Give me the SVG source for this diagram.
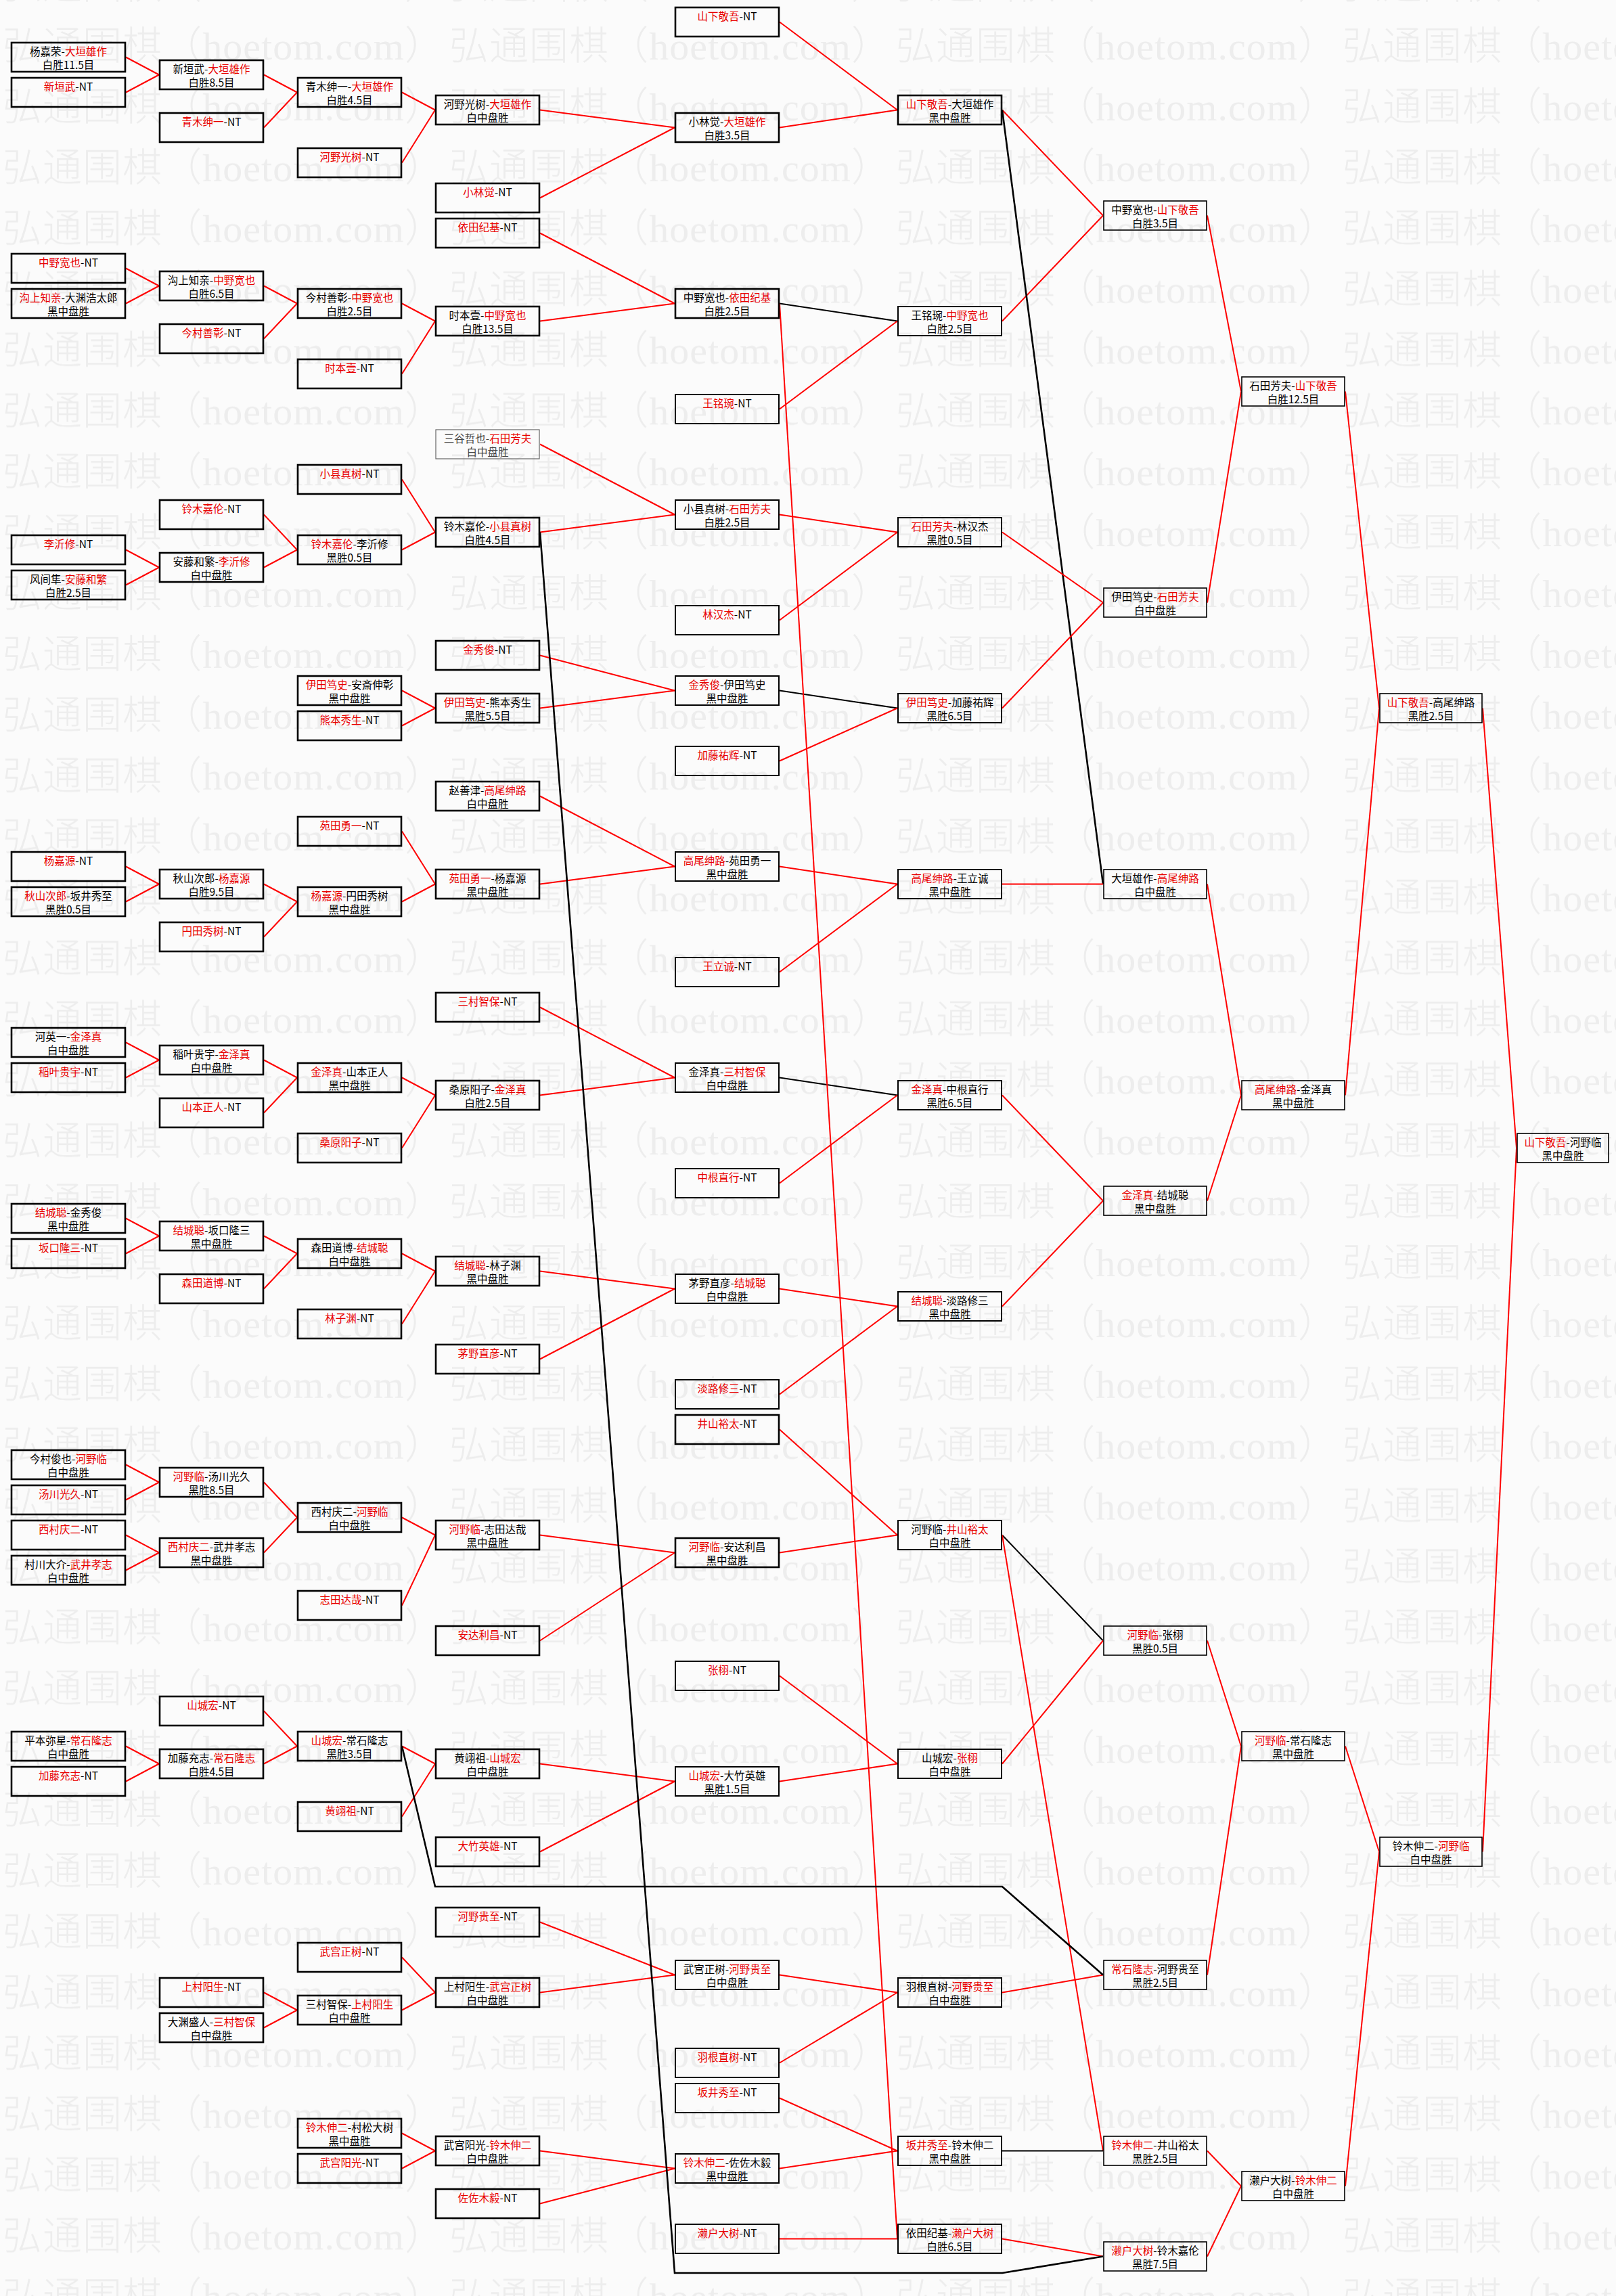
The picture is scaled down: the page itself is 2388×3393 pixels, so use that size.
<svg xmlns="http://www.w3.org/2000/svg" width="2388" height="3393" viewBox="0 0 2388 3393">
<style>
.bx{fill:none;stroke:#000;stroke-width:2.6}
.bm{fill:none;stroke:#000;stroke-width:2}
.bs{fill:none;stroke:#000;stroke-width:1.6}
.bg{fill:none;stroke:#666;stroke-width:1.2}
.t{font-family:"Noto Sans CJK SC","Noto Sans CJK JP",sans-serif;font-size:15.5px;text-anchor:middle;fill:#000}
.gt{fill:#444}
.r{fill:#e80000}
.lr{stroke:#f00;stroke-width:2;fill:none}
.lk{stroke:#000;stroke-width:2;fill:none}
.lk2{stroke:#000;stroke-width:2.6;fill:none}
</style>
<defs>
<pattern id="wm" patternUnits="userSpaceOnUse" x="0" y="37" width="660" height="89.9">
<text x="4" y="51" font-family="'Liberation Serif','Noto Sans CJK SC',serif" font-size="58" font-weight="300" fill="#ededed" textLength="652" lengthAdjust="spacing">弘通围棋（hoetom.com）</text>
</pattern>
</defs>
<rect width="2388" height="3393" fill="#fbfbfb"/>
<rect width="2388" height="3393" fill="url(#wm)"/>
<g id="connectors">
<line class="lr" x1="186" y1="84.5" x2="235" y2="110.5"/>
<line class="lr" x1="186" y1="136.5" x2="235" y2="110.5"/>
<line class="lr" x1="186" y1="396.5" x2="235" y2="422.5"/>
<line class="lr" x1="186" y1="448.5" x2="235" y2="422.5"/>
<line class="lr" x1="186" y1="812.5" x2="235" y2="838.5"/>
<line class="lr" x1="186" y1="864.5" x2="235" y2="838.5"/>
<line class="lr" x1="186" y1="1280.5" x2="235" y2="1306.5"/>
<line class="lr" x1="186" y1="1332.5" x2="235" y2="1306.5"/>
<line class="lr" x1="186" y1="1540.5" x2="235" y2="1566.5"/>
<line class="lr" x1="186" y1="1592.5" x2="235" y2="1566.5"/>
<line class="lr" x1="186" y1="1800.5" x2="235" y2="1826.5"/>
<line class="lr" x1="186" y1="1852.5" x2="235" y2="1826.5"/>
<line class="lr" x1="186" y1="2164.5" x2="235" y2="2190.5"/>
<line class="lr" x1="186" y1="2216.5" x2="235" y2="2190.5"/>
<line class="lr" x1="186" y1="2268.5" x2="235" y2="2294.5"/>
<line class="lr" x1="186" y1="2320.5" x2="235" y2="2294.5"/>
<line class="lr" x1="186" y1="2580.5" x2="235" y2="2606.5"/>
<line class="lr" x1="186" y1="2632.5" x2="235" y2="2606.5"/>
<line class="lr" x1="390" y1="110.5" x2="439" y2="136.5"/>
<line class="lr" x1="390" y1="188.5" x2="439" y2="136.5"/>
<line class="lr" x1="390" y1="422.5" x2="439" y2="448.5"/>
<line class="lr" x1="390" y1="500.5" x2="439" y2="448.5"/>
<line class="lr" x1="390" y1="760.5" x2="439" y2="812.5"/>
<line class="lr" x1="390" y1="838.5" x2="439" y2="812.5"/>
<line class="lr" x1="390" y1="1306.5" x2="439" y2="1332.5"/>
<line class="lr" x1="390" y1="1384.5" x2="439" y2="1332.5"/>
<line class="lr" x1="390" y1="1566.5" x2="439" y2="1592.5"/>
<line class="lr" x1="390" y1="1644.5" x2="439" y2="1592.5"/>
<line class="lr" x1="390" y1="1826.5" x2="439" y2="1852.5"/>
<line class="lr" x1="390" y1="1904.5" x2="439" y2="1852.5"/>
<line class="lr" x1="390" y1="2190.5" x2="439" y2="2242.5"/>
<line class="lr" x1="390" y1="2294.5" x2="439" y2="2242.5"/>
<line class="lr" x1="390" y1="2528.5" x2="439" y2="2580.5"/>
<line class="lr" x1="390" y1="2606.5" x2="439" y2="2580.5"/>
<line class="lr" x1="390" y1="2944.5" x2="439" y2="2970.5"/>
<line class="lr" x1="390" y1="2996.5" x2="439" y2="2970.5"/>
<line class="lr" x1="594" y1="136.5" x2="643" y2="162.5"/>
<line class="lr" x1="594" y1="240.5" x2="643" y2="162.5"/>
<line class="lr" x1="594" y1="448.5" x2="643" y2="474.5"/>
<line class="lr" x1="594" y1="552.5" x2="643" y2="474.5"/>
<line class="lr" x1="594" y1="708.5" x2="643" y2="786.5"/>
<line class="lr" x1="594" y1="812.5" x2="643" y2="786.5"/>
<line class="lr" x1="594" y1="1020.5" x2="643" y2="1046.5"/>
<line class="lr" x1="594" y1="1072.5" x2="643" y2="1046.5"/>
<line class="lr" x1="594" y1="1228.5" x2="643" y2="1306.5"/>
<line class="lr" x1="594" y1="1332.5" x2="643" y2="1306.5"/>
<line class="lr" x1="594" y1="1592.5" x2="643" y2="1618.5"/>
<line class="lr" x1="594" y1="1696.5" x2="643" y2="1618.5"/>
<line class="lr" x1="594" y1="1852.5" x2="643" y2="1878.5"/>
<line class="lr" x1="594" y1="1956.5" x2="643" y2="1878.5"/>
<line class="lr" x1="594" y1="2242.5" x2="643" y2="2268.5"/>
<line class="lr" x1="594" y1="2372.5" x2="643" y2="2268.5"/>
<line class="lr" x1="594" y1="2580.5" x2="643" y2="2606.5"/>
<line class="lr" x1="594" y1="2684.5" x2="643" y2="2606.5"/>
<line class="lr" x1="594" y1="2892.5" x2="643" y2="2944.5"/>
<line class="lr" x1="594" y1="2970.5" x2="643" y2="2944.5"/>
<line class="lr" x1="594" y1="3152.5" x2="643" y2="3178.5"/>
<line class="lr" x1="594" y1="3204.5" x2="643" y2="3178.5"/>
<line class="lr" x1="798" y1="162.5" x2="997" y2="188.5"/>
<line class="lr" x1="798" y1="292.5" x2="997" y2="188.5"/>
<line class="lr" x1="798" y1="344.5" x2="997" y2="448.5"/>
<line class="lr" x1="798" y1="474.5" x2="997" y2="448.5"/>
<line class="lr" x1="798" y1="656.5" x2="997" y2="760.5"/>
<line class="lr" x1="798" y1="786.5" x2="997" y2="760.5"/>
<line class="lr" x1="798" y1="968.5" x2="997" y2="1020.5"/>
<line class="lr" x1="798" y1="1046.5" x2="997" y2="1020.5"/>
<line class="lr" x1="798" y1="1176.5" x2="997" y2="1280.5"/>
<line class="lr" x1="798" y1="1306.5" x2="997" y2="1280.5"/>
<line class="lr" x1="798" y1="1488.5" x2="997" y2="1592.5"/>
<line class="lr" x1="798" y1="1618.5" x2="997" y2="1592.5"/>
<line class="lr" x1="798" y1="1878.5" x2="997" y2="1904.5"/>
<line class="lr" x1="798" y1="2008.5" x2="997" y2="1904.5"/>
<line class="lr" x1="798" y1="2268.5" x2="997" y2="2294.5"/>
<line class="lr" x1="798" y1="2424.5" x2="997" y2="2294.5"/>
<line class="lr" x1="798" y1="2606.5" x2="997" y2="2632.5"/>
<line class="lr" x1="798" y1="2736.5" x2="997" y2="2632.5"/>
<line class="lr" x1="798" y1="2840.5" x2="997" y2="2918.5"/>
<line class="lr" x1="798" y1="2944.5" x2="997" y2="2918.5"/>
<line class="lr" x1="798" y1="3178.5" x2="997" y2="3204.5"/>
<line class="lr" x1="798" y1="3256.5" x2="997" y2="3204.5"/>
<line class="lr" x1="1152" y1="32.5" x2="1326" y2="162.5"/>
<line class="lr" x1="1152" y1="188.5" x2="1326" y2="162.5"/>
<line class="lk" x1="1152" y1="448.5" x2="1326" y2="474.5"/>
<line class="lr" x1="1152" y1="604.5" x2="1326" y2="474.5"/>
<line class="lr" x1="1152" y1="760.5" x2="1326" y2="786.5"/>
<line class="lr" x1="1152" y1="916.5" x2="1326" y2="786.5"/>
<line class="lk" x1="1152" y1="1020.5" x2="1326" y2="1046.5"/>
<line class="lr" x1="1152" y1="1124.5" x2="1326" y2="1046.5"/>
<line class="lr" x1="1152" y1="1280.5" x2="1326" y2="1306.5"/>
<line class="lr" x1="1152" y1="1436.5" x2="1326" y2="1306.5"/>
<line class="lk" x1="1152" y1="1592.5" x2="1326" y2="1618.5"/>
<line class="lr" x1="1152" y1="1748.5" x2="1326" y2="1618.5"/>
<line class="lr" x1="1152" y1="1904.5" x2="1326" y2="1930.5"/>
<line class="lr" x1="1152" y1="2060.5" x2="1326" y2="1930.5"/>
<line class="lr" x1="1152" y1="2112.5" x2="1326" y2="2268.5"/>
<line class="lr" x1="1152" y1="2294.5" x2="1326" y2="2268.5"/>
<line class="lr" x1="1152" y1="2476.5" x2="1326" y2="2606.5"/>
<line class="lr" x1="1152" y1="2632.5" x2="1326" y2="2606.5"/>
<line class="lr" x1="1152" y1="2918.5" x2="1326" y2="2944.5"/>
<line class="lr" x1="1152" y1="3048.5" x2="1326" y2="2944.5"/>
<line class="lr" x1="1152" y1="3100.5" x2="1326" y2="3178.5"/>
<line class="lr" x1="1152" y1="3204.5" x2="1326" y2="3178.5"/>
<line class="lr" x1="1152" y1="3308.5" x2="1326" y2="3308.5"/>
<line class="lr" x1="1152" y1="448.5" x2="1326" y2="3308.5"/>
<line class="lr" x1="1481" y1="162.5" x2="1630" y2="318.5"/>
<line class="lr" x1="1481" y1="474.5" x2="1630" y2="318.5"/>
<line class="lk2" x1="1481" y1="162.5" x2="1630" y2="1306.5"/>
<line class="lr" x1="1481" y1="786.5" x2="1630" y2="890.5"/>
<line class="lr" x1="1481" y1="1046.5" x2="1630" y2="890.5"/>
<line class="lr" x1="1481" y1="1306.5" x2="1630" y2="1306.5"/>
<line class="lr" x1="1481" y1="1618.5" x2="1630" y2="1774.5"/>
<line class="lr" x1="1481" y1="1930.5" x2="1630" y2="1774.5"/>
<line class="lk" x1="1481" y1="2268.5" x2="1630" y2="2424.5"/>
<line class="lr" x1="1481" y1="2606.5" x2="1630" y2="2424.5"/>
<line class="lr" x1="1481" y1="2268.5" x2="1630" y2="3178.5"/>
<line class="lr" x1="1481" y1="2944.5" x2="1630" y2="2918.5"/>
<line class="lk" x1="1481" y1="3178.5" x2="1630" y2="3178.5"/>
<line class="lr" x1="1481" y1="3308.5" x2="1630" y2="3334.5"/>
<polyline class="lk2" points="594,2580.5 643,2788 1481,2788 1630,2918.5"/>
<polyline class="lk2" points="798,786.5 997,3359 1481,3359 1630,3334.5"/>
<line class="lr" x1="1784" y1="318.5" x2="1834" y2="578.5"/>
<line class="lr" x1="1784" y1="890.5" x2="1834" y2="578.5"/>
<line class="lr" x1="1784" y1="1306.5" x2="1834" y2="1618.5"/>
<line class="lr" x1="1784" y1="1774.5" x2="1834" y2="1618.5"/>
<line class="lr" x1="1784" y1="2424.5" x2="1834" y2="2580.5"/>
<line class="lr" x1="1784" y1="2918.5" x2="1834" y2="2580.5"/>
<line class="lr" x1="1784" y1="3178.5" x2="1834" y2="3230.5"/>
<line class="lr" x1="1784" y1="3334.5" x2="1834" y2="3230.5"/>
<line class="lr" x1="1988" y1="578.5" x2="2038" y2="1046.5"/>
<line class="lr" x1="1988" y1="1618.5" x2="2038" y2="1046.5"/>
<line class="lr" x1="1988" y1="2580.5" x2="2038" y2="2736.5"/>
<line class="lr" x1="1988" y1="3230.5" x2="2038" y2="2736.5"/>
<line class="lr" x1="2191" y1="1046.5" x2="2241" y2="1696.5"/>
<line class="lr" x1="2191" y1="2736.5" x2="2241" y2="1696.5"/>
</g>
<g id="col1">
<g id="n1-0"><rect class="bx" x="17" y="63" width="168" height="43"/><text class="t" x="101" y="82">杨嘉荣-<tspan class="r">大垣雄作</tspan></text><text class="t" x="101" y="102">白胜11.5目</text></g>
<g id="n1-2"><rect class="bx" x="17" y="115" width="168" height="43"/><text class="t" x="101" y="134"><tspan class="r">新垣武</tspan>-NT</text></g>
<g id="n1-12"><rect class="bx" x="17" y="375" width="168" height="43"/><text class="t" x="101" y="394"><tspan class="r">中野宽也</tspan>-NT</text></g>
<g id="n1-14"><rect class="bx" x="17" y="427" width="168" height="43"/><text class="t" x="101" y="446"><tspan class="r">沟上知亲</tspan>-大渊浩太郎</text><text class="t" x="101" y="466">黑中盘胜</text></g>
<g id="n1-28"><rect class="bx" x="17" y="791" width="168" height="43"/><text class="t" x="101" y="810"><tspan class="r">李沂修</tspan>-NT</text></g>
<g id="n1-30"><rect class="bx" x="17" y="843" width="168" height="43"/><text class="t" x="101" y="862">风间隼-<tspan class="r">安藤和繁</tspan></text><text class="t" x="101" y="882">白胜2.5目</text></g>
<g id="n1-46"><rect class="bx" x="17" y="1259" width="168" height="43"/><text class="t" x="101" y="1278"><tspan class="r">杨嘉源</tspan>-NT</text></g>
<g id="n1-48"><rect class="bx" x="17" y="1311" width="168" height="43"/><text class="t" x="101" y="1330"><tspan class="r">秋山次郎</tspan>-坂井秀至</text><text class="t" x="101" y="1350">黑胜0.5目</text></g>
<g id="n1-56"><rect class="bx" x="17" y="1519" width="168" height="43"/><text class="t" x="101" y="1538">河英一-<tspan class="r">金泽真</tspan></text><text class="t" x="101" y="1558">白中盘胜</text></g>
<g id="n1-58"><rect class="bx" x="17" y="1571" width="168" height="43"/><text class="t" x="101" y="1590"><tspan class="r">稲叶贵宇</tspan>-NT</text></g>
<g id="n1-66"><rect class="bx" x="17" y="1779" width="168" height="43"/><text class="t" x="101" y="1798"><tspan class="r">结城聪</tspan>-金秀俊</text><text class="t" x="101" y="1818">黑中盘胜</text></g>
<g id="n1-68"><rect class="bx" x="17" y="1831" width="168" height="43"/><text class="t" x="101" y="1850"><tspan class="r">坂口隆三</tspan>-NT</text></g>
<g id="n1-80"><rect class="bx" x="17" y="2143" width="168" height="43"/><text class="t" x="101" y="2162">今村俊也-<tspan class="r">河野临</tspan></text><text class="t" x="101" y="2182">白中盘胜</text></g>
<g id="n1-82"><rect class="bx" x="17" y="2195" width="168" height="43"/><text class="t" x="101" y="2214"><tspan class="r">汤川光久</tspan>-NT</text></g>
<g id="n1-84"><rect class="bx" x="17" y="2247" width="168" height="43"/><text class="t" x="101" y="2266"><tspan class="r">西村庆二</tspan>-NT</text></g>
<g id="n1-86"><rect class="bx" x="17" y="2299" width="168" height="43"/><text class="t" x="101" y="2318">村川大介-<tspan class="r">武井孝志</tspan></text><text class="t" x="101" y="2338">白中盘胜</text></g>
<g id="n1-96"><rect class="bx" x="17" y="2559" width="168" height="43"/><text class="t" x="101" y="2578">平本弥星-<tspan class="r">常石隆志</tspan></text><text class="t" x="101" y="2598">白中盘胜</text></g>
<g id="n1-98"><rect class="bx" x="17" y="2611" width="168" height="43"/><text class="t" x="101" y="2630"><tspan class="r">加藤充志</tspan>-NT</text></g>
</g>
<g id="col2">
<g id="n2-1"><rect class="bx" x="236" y="89" width="153" height="43"/><text class="t" x="312.5" y="108">新垣武-<tspan class="r">大垣雄作</tspan></text><text class="t" x="312.5" y="128">白胜8.5目</text></g>
<g id="n2-4"><rect class="bx" x="236" y="167" width="153" height="43"/><text class="t" x="312.5" y="186"><tspan class="r">青木绅一</tspan>-NT</text></g>
<g id="n2-13"><rect class="bx" x="236" y="401" width="153" height="43"/><text class="t" x="312.5" y="420">沟上知亲-<tspan class="r">中野宽也</tspan></text><text class="t" x="312.5" y="440">白胜6.5目</text></g>
<g id="n2-16"><rect class="bx" x="236" y="479" width="153" height="43"/><text class="t" x="312.5" y="498"><tspan class="r">今村善彰</tspan>-NT</text></g>
<g id="n2-26"><rect class="bx" x="236" y="739" width="153" height="43"/><text class="t" x="312.5" y="758"><tspan class="r">铃木嘉伦</tspan>-NT</text></g>
<g id="n2-29"><rect class="bx" x="236" y="817" width="153" height="43"/><text class="t" x="312.5" y="836">安藤和繁-<tspan class="r">李沂修</tspan></text><text class="t" x="312.5" y="856">白中盘胜</text></g>
<g id="n2-47"><rect class="bx" x="236" y="1285" width="153" height="43"/><text class="t" x="312.5" y="1304">秋山次郎-<tspan class="r">杨嘉源</tspan></text><text class="t" x="312.5" y="1324">白胜9.5目</text></g>
<g id="n2-50"><rect class="bx" x="236" y="1363" width="153" height="43"/><text class="t" x="312.5" y="1382"><tspan class="r">円田秀树</tspan>-NT</text></g>
<g id="n2-57"><rect class="bx" x="236" y="1545" width="153" height="43"/><text class="t" x="312.5" y="1564">稲叶贵宇-<tspan class="r">金泽真</tspan></text><text class="t" x="312.5" y="1584">白中盘胜</text></g>
<g id="n2-60"><rect class="bx" x="236" y="1623" width="153" height="43"/><text class="t" x="312.5" y="1642"><tspan class="r">山本正人</tspan>-NT</text></g>
<g id="n2-67"><rect class="bx" x="236" y="1805" width="153" height="43"/><text class="t" x="312.5" y="1824"><tspan class="r">结城聪</tspan>-坂口隆三</text><text class="t" x="312.5" y="1844">黑中盘胜</text></g>
<g id="n2-70"><rect class="bx" x="236" y="1883" width="153" height="43"/><text class="t" x="312.5" y="1902"><tspan class="r">森田道博</tspan>-NT</text></g>
<g id="n2-81"><rect class="bx" x="236" y="2169" width="153" height="43"/><text class="t" x="312.5" y="2188"><tspan class="r">河野临</tspan>-汤川光久</text><text class="t" x="312.5" y="2208">黑胜8.5目</text></g>
<g id="n2-85"><rect class="bx" x="236" y="2273" width="153" height="43"/><text class="t" x="312.5" y="2292"><tspan class="r">西村庆二</tspan>-武井孝志</text><text class="t" x="312.5" y="2312">黑中盘胜</text></g>
<g id="n2-94"><rect class="bx" x="236" y="2507" width="153" height="43"/><text class="t" x="312.5" y="2526"><tspan class="r">山城宏</tspan>-NT</text></g>
<g id="n2-97"><rect class="bx" x="236" y="2585" width="153" height="43"/><text class="t" x="312.5" y="2604">加藤充志-<tspan class="r">常石隆志</tspan></text><text class="t" x="312.5" y="2624">白胜4.5目</text></g>
<g id="n2-110"><rect class="bx" x="236" y="2923" width="153" height="43"/><text class="t" x="312.5" y="2942"><tspan class="r">上村阳生</tspan>-NT</text></g>
<g id="n2-112"><rect class="bx" x="236" y="2975" width="153" height="43"/><text class="t" x="312.5" y="2994">大渊盛人-<tspan class="r">三村智保</tspan></text><text class="t" x="312.5" y="3014">白中盘胜</text></g>
</g>
<g id="col3">
<g id="n3-2"><rect class="bx" x="440" y="115" width="153" height="43"/><text class="t" x="516.5" y="134">青木绅一-<tspan class="r">大垣雄作</tspan></text><text class="t" x="516.5" y="154">白胜4.5目</text></g>
<g id="n3-6"><rect class="bx" x="440" y="219" width="153" height="43"/><text class="t" x="516.5" y="238"><tspan class="r">河野光树</tspan>-NT</text></g>
<g id="n3-14"><rect class="bx" x="440" y="427" width="153" height="43"/><text class="t" x="516.5" y="446">今村善彰-<tspan class="r">中野宽也</tspan></text><text class="t" x="516.5" y="466">白胜2.5目</text></g>
<g id="n3-18"><rect class="bx" x="440" y="531" width="153" height="43"/><text class="t" x="516.5" y="550"><tspan class="r">时本壹</tspan>-NT</text></g>
<g id="n3-24"><rect class="bx" x="440" y="687" width="153" height="43"/><text class="t" x="516.5" y="706"><tspan class="r">小县真树</tspan>-NT</text></g>
<g id="n3-28"><rect class="bx" x="440" y="791" width="153" height="43"/><text class="t" x="516.5" y="810"><tspan class="r">铃木嘉伦</tspan>-李沂修</text><text class="t" x="516.5" y="830">黑胜0.5目</text></g>
<g id="n3-36"><rect class="bx" x="440" y="999" width="153" height="43"/><text class="t" x="516.5" y="1018"><tspan class="r">伊田笃史</tspan>-安斎伸彰</text><text class="t" x="516.5" y="1038">黑中盘胜</text></g>
<g id="n3-38"><rect class="bx" x="440" y="1051" width="153" height="43"/><text class="t" x="516.5" y="1070"><tspan class="r">熊本秀生</tspan>-NT</text></g>
<g id="n3-44"><rect class="bx" x="440" y="1207" width="153" height="43"/><text class="t" x="516.5" y="1226"><tspan class="r">苑田勇一</tspan>-NT</text></g>
<g id="n3-48"><rect class="bx" x="440" y="1311" width="153" height="43"/><text class="t" x="516.5" y="1330"><tspan class="r">杨嘉源</tspan>-円田秀树</text><text class="t" x="516.5" y="1350">黑中盘胜</text></g>
<g id="n3-58"><rect class="bx" x="440" y="1571" width="153" height="43"/><text class="t" x="516.5" y="1590"><tspan class="r">金泽真</tspan>-山本正人</text><text class="t" x="516.5" y="1610">黑中盘胜</text></g>
<g id="n3-62"><rect class="bx" x="440" y="1675" width="153" height="43"/><text class="t" x="516.5" y="1694"><tspan class="r">桑原阳子</tspan>-NT</text></g>
<g id="n3-68"><rect class="bx" x="440" y="1831" width="153" height="43"/><text class="t" x="516.5" y="1850">森田道博-<tspan class="r">结城聪</tspan></text><text class="t" x="516.5" y="1870">白中盘胜</text></g>
<g id="n3-72"><rect class="bx" x="440" y="1935" width="153" height="43"/><text class="t" x="516.5" y="1954"><tspan class="r">林子渊</tspan>-NT</text></g>
<g id="n3-83"><rect class="bx" x="440" y="2221" width="153" height="43"/><text class="t" x="516.5" y="2240">西村庆二-<tspan class="r">河野临</tspan></text><text class="t" x="516.5" y="2260">白中盘胜</text></g>
<g id="n3-88"><rect class="bx" x="440" y="2351" width="153" height="43"/><text class="t" x="516.5" y="2370"><tspan class="r">志田达哉</tspan>-NT</text></g>
<g id="n3-96"><rect class="bx" x="440" y="2559" width="153" height="43"/><text class="t" x="516.5" y="2578"><tspan class="r">山城宏</tspan>-常石隆志</text><text class="t" x="516.5" y="2598">黑胜3.5目</text></g>
<g id="n3-100"><rect class="bx" x="440" y="2663" width="153" height="43"/><text class="t" x="516.5" y="2682"><tspan class="r">黄翊祖</tspan>-NT</text></g>
<g id="n3-108"><rect class="bx" x="440" y="2871" width="153" height="43"/><text class="t" x="516.5" y="2890"><tspan class="r">武宫正树</tspan>-NT</text></g>
<g id="n3-111"><rect class="bx" x="440" y="2949" width="153" height="43"/><text class="t" x="516.5" y="2968">三村智保-<tspan class="r">上村阳生</tspan></text><text class="t" x="516.5" y="2988">白中盘胜</text></g>
<g id="n3-118"><rect class="bx" x="440" y="3131" width="153" height="43"/><text class="t" x="516.5" y="3150"><tspan class="r">铃木伸二</tspan>-村松大树</text><text class="t" x="516.5" y="3170">黑中盘胜</text></g>
<g id="n3-120"><rect class="bx" x="440" y="3183" width="153" height="43"/><text class="t" x="516.5" y="3202"><tspan class="r">武宫阳光</tspan>-NT</text></g>
</g>
<g id="col4">
<g id="n4-3"><rect class="bx" x="644" y="141" width="153" height="43"/><text class="t" x="720.5" y="160">河野光树-<tspan class="r">大垣雄作</tspan></text><text class="t" x="720.5" y="180">白中盘胜</text></g>
<g id="n4-8"><rect class="bx" x="644" y="271" width="153" height="43"/><text class="t" x="720.5" y="290"><tspan class="r">小林觉</tspan>-NT</text></g>
<g id="n4-10"><rect class="bx" x="644" y="323" width="153" height="43"/><text class="t" x="720.5" y="342"><tspan class="r">依田纪基</tspan>-NT</text></g>
<g id="n4-15"><rect class="bx" x="644" y="453" width="153" height="43"/><text class="t" x="720.5" y="472">时本壹-<tspan class="r">中野宽也</tspan></text><text class="t" x="720.5" y="492">白胜13.5目</text></g>
<g id="n4-22"><rect class="bg" x="644" y="635" width="153" height="43"/><text class="t gt" x="720.5" y="654">三谷哲也-<tspan class="r">石田芳夫</tspan></text><text class="t gt" x="720.5" y="674">白中盘胜</text></g>
<g id="n4-27"><rect class="bx" x="644" y="765" width="153" height="43"/><text class="t" x="720.5" y="784">铃木嘉伦-<tspan class="r">小县真树</tspan></text><text class="t" x="720.5" y="804">白胜4.5目</text></g>
<g id="n4-34"><rect class="bx" x="644" y="947" width="153" height="43"/><text class="t" x="720.5" y="966"><tspan class="r">金秀俊</tspan>-NT</text></g>
<g id="n4-37"><rect class="bx" x="644" y="1025" width="153" height="43"/><text class="t" x="720.5" y="1044"><tspan class="r">伊田笃史</tspan>-熊本秀生</text><text class="t" x="720.5" y="1064">黑胜5.5目</text></g>
<g id="n4-42"><rect class="bx" x="644" y="1155" width="153" height="43"/><text class="t" x="720.5" y="1174">赵善津-<tspan class="r">高尾绅路</tspan></text><text class="t" x="720.5" y="1194">白中盘胜</text></g>
<g id="n4-47"><rect class="bx" x="644" y="1285" width="153" height="43"/><text class="t" x="720.5" y="1304"><tspan class="r">苑田勇一</tspan>-杨嘉源</text><text class="t" x="720.5" y="1324">黑中盘胜</text></g>
<g id="n4-54"><rect class="bx" x="644" y="1467" width="153" height="43"/><text class="t" x="720.5" y="1486"><tspan class="r">三村智保</tspan>-NT</text></g>
<g id="n4-59"><rect class="bx" x="644" y="1597" width="153" height="43"/><text class="t" x="720.5" y="1616">桑原阳子-<tspan class="r">金泽真</tspan></text><text class="t" x="720.5" y="1636">白胜2.5目</text></g>
<g id="n4-69"><rect class="bx" x="644" y="1857" width="153" height="43"/><text class="t" x="720.5" y="1876"><tspan class="r">结城聪</tspan>-林子渊</text><text class="t" x="720.5" y="1896">黑中盘胜</text></g>
<g id="n4-74"><rect class="bx" x="644" y="1987" width="153" height="43"/><text class="t" x="720.5" y="2006"><tspan class="r">茅野直彦</tspan>-NT</text></g>
<g id="n4-84"><rect class="bx" x="644" y="2247" width="153" height="43"/><text class="t" x="720.5" y="2266"><tspan class="r">河野临</tspan>-志田达哉</text><text class="t" x="720.5" y="2286">黑中盘胜</text></g>
<g id="n4-90"><rect class="bx" x="644" y="2403" width="153" height="43"/><text class="t" x="720.5" y="2422"><tspan class="r">安达利昌</tspan>-NT</text></g>
<g id="n4-97"><rect class="bx" x="644" y="2585" width="153" height="43"/><text class="t" x="720.5" y="2604">黄翊祖-<tspan class="r">山城宏</tspan></text><text class="t" x="720.5" y="2624">白中盘胜</text></g>
<g id="n4-102"><rect class="bx" x="644" y="2715" width="153" height="43"/><text class="t" x="720.5" y="2734"><tspan class="r">大竹英雄</tspan>-NT</text></g>
<g id="n4-106"><rect class="bx" x="644" y="2819" width="153" height="43"/><text class="t" x="720.5" y="2838"><tspan class="r">河野贵至</tspan>-NT</text></g>
<g id="n4-110"><rect class="bx" x="644" y="2923" width="153" height="43"/><text class="t" x="720.5" y="2942">上村阳生-<tspan class="r">武宫正树</tspan></text><text class="t" x="720.5" y="2962">白中盘胜</text></g>
<g id="n4-119"><rect class="bx" x="644" y="3157" width="153" height="43"/><text class="t" x="720.5" y="3176">武宫阳光-<tspan class="r">铃木伸二</tspan></text><text class="t" x="720.5" y="3196">白中盘胜</text></g>
<g id="n4-122"><rect class="bx" x="644" y="3235" width="153" height="43"/><text class="t" x="720.5" y="3254"><tspan class="r">佐佐木毅</tspan>-NT</text></g>
</g>
<g id="col5">
<g id="n5-m2"><rect class="bx" x="998" y="11" width="153" height="43"/><text class="t" x="1074.5" y="30"><tspan class="r">山下敬吾</tspan>-NT</text></g>
<g id="n5-4"><rect class="bx" x="998" y="167" width="153" height="43"/><text class="t" x="1074.5" y="186">小林觉-<tspan class="r">大垣雄作</tspan></text><text class="t" x="1074.5" y="206">白胜3.5目</text></g>
<g id="n5-14"><rect class="bx" x="998" y="427" width="153" height="43"/><text class="t" x="1074.5" y="446">中野宽也-<tspan class="r">依田纪基</tspan></text><text class="t" x="1074.5" y="466">白胜2.5目</text></g>
<g id="n5-20"><rect class="bm" x="998" y="583" width="153" height="43"/><text class="t" x="1074.5" y="602"><tspan class="r">王铭琬</tspan>-NT</text></g>
<g id="n5-26"><rect class="bm" x="998" y="739" width="153" height="43"/><text class="t" x="1074.5" y="758">小县真树-<tspan class="r">石田芳夫</tspan></text><text class="t" x="1074.5" y="778">白胜2.5目</text></g>
<g id="n5-32"><rect class="bm" x="998" y="895" width="153" height="43"/><text class="t" x="1074.5" y="914"><tspan class="r">林汉杰</tspan>-NT</text></g>
<g id="n5-36"><rect class="bm" x="998" y="999" width="153" height="43"/><text class="t" x="1074.5" y="1018"><tspan class="r">金秀俊</tspan>-伊田笃史</text><text class="t" x="1074.5" y="1038">黑中盘胜</text></g>
<g id="n5-40"><rect class="bm" x="998" y="1103" width="153" height="43"/><text class="t" x="1074.5" y="1122"><tspan class="r">加藤祐辉</tspan>-NT</text></g>
<g id="n5-46"><rect class="bm" x="998" y="1259" width="153" height="43"/><text class="t" x="1074.5" y="1278"><tspan class="r">高尾绅路</tspan>-苑田勇一</text><text class="t" x="1074.5" y="1298">黑中盘胜</text></g>
<g id="n5-52"><rect class="bm" x="998" y="1415" width="153" height="43"/><text class="t" x="1074.5" y="1434"><tspan class="r">王立诚</tspan>-NT</text></g>
<g id="n5-58"><rect class="bm" x="998" y="1571" width="153" height="43"/><text class="t" x="1074.5" y="1590">金泽真-<tspan class="r">三村智保</tspan></text><text class="t" x="1074.5" y="1610">白中盘胜</text></g>
<g id="n5-64"><rect class="bm" x="998" y="1727" width="153" height="43"/><text class="t" x="1074.5" y="1746"><tspan class="r">中根直行</tspan>-NT</text></g>
<g id="n5-70"><rect class="bm" x="998" y="1883" width="153" height="43"/><text class="t" x="1074.5" y="1902">茅野直彦-<tspan class="r">结城聪</tspan></text><text class="t" x="1074.5" y="1922">白中盘胜</text></g>
<g id="n5-76"><rect class="bm" x="998" y="2039" width="153" height="43"/><text class="t" x="1074.5" y="2058"><tspan class="r">淡路修三</tspan>-NT</text></g>
<g id="n5-78"><rect class="bx" x="998" y="2091" width="153" height="43"/><text class="t" x="1074.5" y="2110"><tspan class="r">井山裕太</tspan>-NT</text></g>
<g id="n5-85"><rect class="bx" x="998" y="2273" width="153" height="43"/><text class="t" x="1074.5" y="2292"><tspan class="r">河野临</tspan>-安达利昌</text><text class="t" x="1074.5" y="2312">黑中盘胜</text></g>
<g id="n5-92"><rect class="bm" x="998" y="2455" width="153" height="43"/><text class="t" x="1074.5" y="2474"><tspan class="r">张栩</tspan>-NT</text></g>
<g id="n5-98"><rect class="bm" x="998" y="2611" width="153" height="43"/><text class="t" x="1074.5" y="2630"><tspan class="r">山城宏</tspan>-大竹英雄</text><text class="t" x="1074.5" y="2650">黑胜1.5目</text></g>
<g id="n5-109"><rect class="bm" x="998" y="2897" width="153" height="43"/><text class="t" x="1074.5" y="2916">武宫正树-<tspan class="r">河野贵至</tspan></text><text class="t" x="1074.5" y="2936">白中盘胜</text></g>
<g id="n5-114"><rect class="bm" x="998" y="3027" width="153" height="43"/><text class="t" x="1074.5" y="3046"><tspan class="r">羽根直树</tspan>-NT</text></g>
<g id="n5-116"><rect class="bm" x="998" y="3079" width="153" height="43"/><text class="t" x="1074.5" y="3098"><tspan class="r">坂井秀至</tspan>-NT</text></g>
<g id="n5-120"><rect class="bm" x="998" y="3183" width="153" height="43"/><text class="t" x="1074.5" y="3202"><tspan class="r">铃木伸二</tspan>-佐佐木毅</text><text class="t" x="1074.5" y="3222">黑中盘胜</text></g>
<g id="n5-124"><rect class="bm" x="998" y="3287" width="153" height="43"/><text class="t" x="1074.5" y="3306"><tspan class="r">濑户大树</tspan>-NT</text></g>
</g>
<g id="col6">
<g id="n6-3"><rect class="bx" x="1327" y="141" width="153" height="43"/><text class="t" x="1403.5" y="160"><tspan class="r">山下敬吾</tspan>-大垣雄作</text><text class="t" x="1403.5" y="180">黑中盘胜</text></g>
<g id="n6-15"><rect class="bm" x="1327" y="453" width="153" height="43"/><text class="t" x="1403.5" y="472">王铭琬-<tspan class="r">中野宽也</tspan></text><text class="t" x="1403.5" y="492">白胜2.5目</text></g>
<g id="n6-27"><rect class="bm" x="1327" y="765" width="153" height="43"/><text class="t" x="1403.5" y="784"><tspan class="r">石田芳夫</tspan>-林汉杰</text><text class="t" x="1403.5" y="804">黑胜0.5目</text></g>
<g id="n6-37"><rect class="bm" x="1327" y="1025" width="153" height="43"/><text class="t" x="1403.5" y="1044"><tspan class="r">伊田笃史</tspan>-加藤祐辉</text><text class="t" x="1403.5" y="1064">黑胜6.5目</text></g>
<g id="n6-47"><rect class="bm" x="1327" y="1285" width="153" height="43"/><text class="t" x="1403.5" y="1304"><tspan class="r">高尾绅路</tspan>-王立诚</text><text class="t" x="1403.5" y="1324">黑中盘胜</text></g>
<g id="n6-59"><rect class="bm" x="1327" y="1597" width="153" height="43"/><text class="t" x="1403.5" y="1616"><tspan class="r">金泽真</tspan>-中根直行</text><text class="t" x="1403.5" y="1636">黑胜6.5目</text></g>
<g id="n6-71"><rect class="bm" x="1327" y="1909" width="153" height="43"/><text class="t" x="1403.5" y="1928"><tspan class="r">结城聪</tspan>-淡路修三</text><text class="t" x="1403.5" y="1948">黑中盘胜</text></g>
<g id="n6-84"><rect class="bm" x="1327" y="2247" width="153" height="43"/><text class="t" x="1403.5" y="2266">河野临-<tspan class="r">井山裕太</tspan></text><text class="t" x="1403.5" y="2286">白中盘胜</text></g>
<g id="n6-97"><rect class="bm" x="1327" y="2585" width="153" height="43"/><text class="t" x="1403.5" y="2604">山城宏-<tspan class="r">张栩</tspan></text><text class="t" x="1403.5" y="2624">白中盘胜</text></g>
<g id="n6-110"><rect class="bm" x="1327" y="2923" width="153" height="43"/><text class="t" x="1403.5" y="2942">羽根直树-<tspan class="r">河野贵至</tspan></text><text class="t" x="1403.5" y="2962">白中盘胜</text></g>
<g id="n6-119"><rect class="bm" x="1327" y="3157" width="153" height="43"/><text class="t" x="1403.5" y="3176"><tspan class="r">坂井秀至</tspan>-铃木伸二</text><text class="t" x="1403.5" y="3196">黑中盘胜</text></g>
<g id="n6-124"><rect class="bm" x="1327" y="3287" width="153" height="43"/><text class="t" x="1403.5" y="3306">依田纪基-<tspan class="r">濑户大树</tspan></text><text class="t" x="1403.5" y="3326">白胜6.5目</text></g>
</g>
<g id="col7">
<g id="n7-9"><rect class="bs" x="1631" y="297" width="152" height="43"/><text class="t" x="1707" y="316">中野宽也-<tspan class="r">山下敬吾</tspan></text><text class="t" x="1707" y="336">白胜3.5目</text></g>
<g id="n7-31"><rect class="bs" x="1631" y="869" width="152" height="43"/><text class="t" x="1707" y="888">伊田笃史-<tspan class="r">石田芳夫</tspan></text><text class="t" x="1707" y="908">白中盘胜</text></g>
<g id="n7-47"><rect class="bs" x="1631" y="1285" width="152" height="43"/><text class="t" x="1707" y="1304">大垣雄作-<tspan class="r">高尾绅路</tspan></text><text class="t" x="1707" y="1324">白中盘胜</text></g>
<g id="n7-65"><rect class="bs" x="1631" y="1753" width="152" height="43"/><text class="t" x="1707" y="1772"><tspan class="r">金泽真</tspan>-结城聪</text><text class="t" x="1707" y="1792">黑中盘胜</text></g>
<g id="n7-90"><rect class="bs" x="1631" y="2403" width="152" height="43"/><text class="t" x="1707" y="2422"><tspan class="r">河野临</tspan>-张栩</text><text class="t" x="1707" y="2442">黑胜0.5目</text></g>
<g id="n7-109"><rect class="bs" x="1631" y="2897" width="152" height="43"/><text class="t" x="1707" y="2916"><tspan class="r">常石隆志</tspan>-河野贵至</text><text class="t" x="1707" y="2936">黑胜2.5目</text></g>
<g id="n7-119"><rect class="bs" x="1631" y="3157" width="152" height="43"/><text class="t" x="1707" y="3176"><tspan class="r">铃木伸二</tspan>-井山裕太</text><text class="t" x="1707" y="3196">黑胜2.5目</text></g>
<g id="n7-125"><rect class="bs" x="1631" y="3313" width="152" height="43"/><text class="t" x="1707" y="3332"><tspan class="r">濑户大树</tspan>-铃木嘉伦</text><text class="t" x="1707" y="3352">黑胜7.5目</text></g>
</g>
<g id="col8">
<g id="n8-19"><rect class="bs" x="1835" y="557" width="152" height="43"/><text class="t" x="1911" y="576">石田芳夫-<tspan class="r">山下敬吾</tspan></text><text class="t" x="1911" y="596">白胜12.5目</text></g>
<g id="n8-59"><rect class="bs" x="1835" y="1597" width="152" height="43"/><text class="t" x="1911" y="1616"><tspan class="r">高尾绅路</tspan>-金泽真</text><text class="t" x="1911" y="1636">黑中盘胜</text></g>
<g id="n8-96"><rect class="bs" x="1835" y="2559" width="152" height="43"/><text class="t" x="1911" y="2578"><tspan class="r">河野临</tspan>-常石隆志</text><text class="t" x="1911" y="2598">黑中盘胜</text></g>
<g id="n8-121"><rect class="bs" x="1835" y="3209" width="152" height="43"/><text class="t" x="1911" y="3228">濑户大树-<tspan class="r">铃木伸二</tspan></text><text class="t" x="1911" y="3248">白中盘胜</text></g>
</g>
<g id="col9">
<g id="n9-37"><rect class="bs" x="2039" y="1025" width="151" height="43"/><text class="t" x="2114.5" y="1044"><tspan class="r">山下敬吾</tspan>-高尾绅路</text><text class="t" x="2114.5" y="1064">黑胜2.5目</text></g>
<g id="n9-102"><rect class="bs" x="2039" y="2715" width="151" height="43"/><text class="t" x="2114.5" y="2734">铃木伸二-<tspan class="r">河野临</tspan></text><text class="t" x="2114.5" y="2754">白中盘胜</text></g>
</g>
<g id="col10">
<g id="n10-62"><rect class="bs" x="2242" y="1675" width="135" height="43"/><text class="t" x="2309.5" y="1694"><tspan class="r">山下敬吾</tspan>-河野临</text><text class="t" x="2309.5" y="1714">黑中盘胜</text></g>
</g>
</svg>
